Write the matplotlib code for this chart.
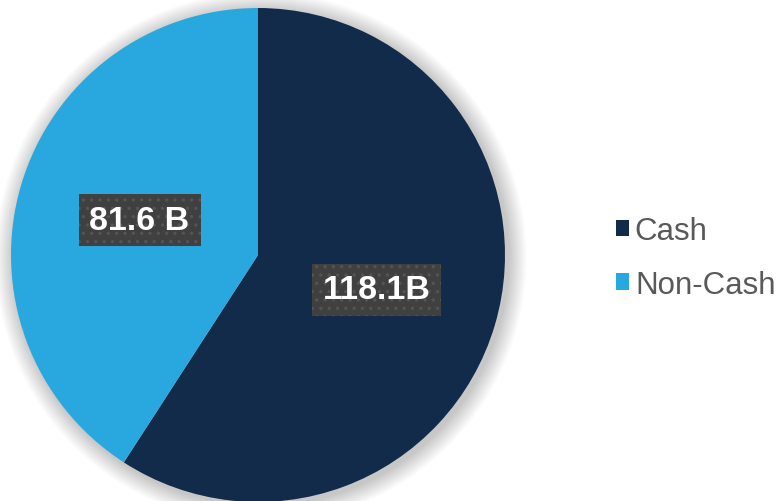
import matplotlib
matplotlib.use("Agg")
import matplotlib.pyplot as plt
from matplotlib.patches import Circle, Patch

categories = ["Cash", "Non-Cash"]
values = [118.1, 81.6]
value_labels = ["118.1B", "81.6 B"]
colors = ["#132B4A", "#29A8E0"]

plt.rcParams['font.family'] = ['Liberation Sans', 'DejaVu Sans']
plt.rcParams['hatch.linewidth'] = 1.2

W, H = 779, 502
fig = plt.figure(figsize=(W / 100, H / 100), dpi=100)
fig.patch.set_facecolor("white")

cx, cy, r = 258, 502 - 256, 247
ax = fig.add_axes([(cx - r) / W, (cy - r) / H, 2 * r / W, 2 * r / H])
ax.axis("off")

# soft shadow
n = 14
for i in range(n):
    rr = 1.0 + 0.075 * (i + 1) / n
    ax.add_patch(Circle((0.012, -0.012), rr, facecolor="black", edgecolor="none",
                        alpha=0.015, zorder=0, clip_on=False))

idx = iter(range(len(values)))
wedges, texts, autotexts = ax.pie(
    values, colors=colors, startangle=90, counterclock=False,
    autopct=lambda p: value_labels[next(idx)], pctdistance=0.5,
    wedgeprops=dict(linewidth=0), radius=1.0,
)
ax.set_xlim(-1, 1)
ax.set_ylim(-1, 1)
ax.set_aspect("equal")
for w in wedges:
    w.set_zorder(2)
for t in autotexts:
    t.set_color("white")
    t.set_fontsize(24.5)
    t.set_fontweight("bold")
    t.set_zorder(5)
    t.set_bbox(dict(boxstyle="square,pad=0.32", facecolor="#404040",
                    edgecolor="#545454", hatch="..", linewidth=0))

handles = [Patch(facecolor=c, edgecolor="none") for c in colors]
leg = fig.legend(handles, categories, loc="center left",
                 bbox_to_anchor=(603 / W, (502 - 259) / H), frameon=False,
                 fontsize=22.5, handlelength=0.42, handleheight=0.42,
                 handletextpad=0.2, labelspacing=0.75, borderaxespad=0)
for t in leg.get_texts():
    t.set_color("#595959")

fig.savefig("out.png", dpi=100, facecolor="white")
